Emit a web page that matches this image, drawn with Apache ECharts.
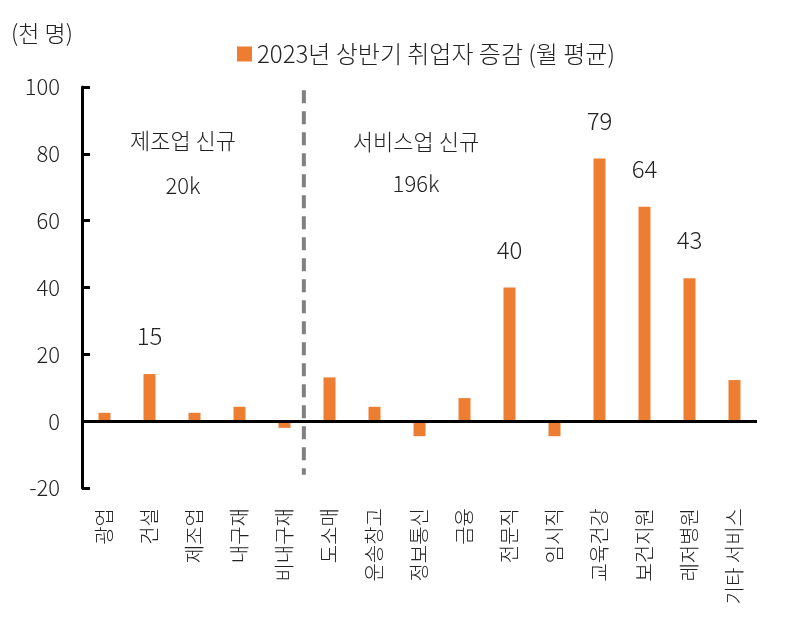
<!DOCTYPE html>
<html><head><meta charset="utf-8">
<script src="https://cdn.jsdelivr.net/npm/echarts@6/dist/echarts.min.js"></script>
<style>html,body{margin:0;padding:0;background:#fff}#c{width:786px;height:620px}</style>
</head><body><div id="c"></div>
<script>
const categories = ['광업','건설','제조업','내구재','비내구재','도소매','운송창고','정보통신','금융','전문직','임시직','교육건강','보건지원','레저병원','기타 서비스'];
const values = [2.5, 14.1, 2.5, 4.3, -2.0, 13.1, 4.3, -4.5, 6.9, 40.0, -4.5, 78.6, 64.2, 42.8, 12.3];
const barLabels = ['', '15', '', '', '', '', '', '', '', '40', '', '79', '64', '43', ''];
const seriesName = '2023년 상반기 취업자 증감 (월 평균)';
const unitLabel = '(천 명)';
const dividerPos = [[4.43, 99], [4.43, -16]];
const yTicks = [-20, 0, 20, 40, 60, 80, 100];

const FONT = '"Noto Sans CJK KR", "Noto Sans", sans-serif';
const TXT = '#222';
const chart = echarts.init(document.getElementById('c'), null, {renderer: 'canvas'});
chart.setOption({
  animation: false,
  textStyle: {fontFamily: FONT},
  grid: {left: 82, right: 29, top: 87, bottom: 132, containLabel: false},
  legend: {
    data: [seriesName], top: 37, left: 232, itemWidth: 15, itemHeight: 15, itemGap: 6,
    icon: 'rect',
    textStyle: {fontSize: 24, color: TXT, fontFamily: FONT, fontWeight: 300}
  },
  graphic: [
    {type: 'text', left: 11, top: 22, style: {text: unitLabel, fill: TXT, font: '300 23px ' + FONT}},
    {type: 'text', x: 183, y: 141, style: {text: '제조업 신규', fill: TXT, font: '300 22px ' + FONT, textAlign: 'center', textVerticalAlign: 'middle'}},
    {type: 'text', x: 183, y: 186, style: {text: '20k', fill: TXT, font: '300 22px ' + FONT, textAlign: 'center', textVerticalAlign: 'middle'}},
    {type: 'text', x: 416, y: 142, style: {text: '서비스업 신규', fill: TXT, font: '300 22px ' + FONT, textAlign: 'center', textVerticalAlign: 'middle'}},
    {type: 'text', x: 416, y: 184, style: {text: '196k', fill: TXT, font: '300 22px ' + FONT, textAlign: 'center', textVerticalAlign: 'middle'}}
  ],
  xAxis: [{
    type: 'category', data: categories, position: 'bottom',
    axisLine: {show: false, onZero: false}, axisTick: {show: false},
    axisLabel: {rotate: 90, margin: 20, fontSize: 20, color: TXT, fontFamily: FONT, fontWeight: 300, interval: 0}
  }, {
    type: 'value', min: -0.5, max: 14.5, show: false
  }],
  yAxis: {
    type: 'value', min: -20, max: 100, interval: 20,
    axisLine: {show: true, onZero: false, lineStyle: {color: '#000', width: 3}},
    axisTick: {show: true, inside: true, length: 8, lineStyle: {color: '#000', width: 3}},
    splitLine: {show: false},
    axisLabel: {margin: 22, fontSize: 22, color: TXT, fontFamily: FONT, fontWeight: 300}
  },
  series: [{
    name: seriesName, type: 'bar', data: values, barWidth: 12,
    itemStyle: {color: '#ED7D31'},
    label: {show: true, position: 'top', distance: 26, fontSize: 24, color: TXT, fontFamily: FONT, fontWeight: 300,
      formatter: p => barLabels[p.dataIndex]},
    markLine: {silent: true, symbol: 'none', label: {show: false},
      lineStyle: {color: '#000', width: 3, type: 'solid'},
      data: [{yAxis: 0}]}
  }, {
    type: 'line', xAxisIndex: 1, data: dividerPos, symbol: 'none',
    lineStyle: {color: '#808080', width: 4, type: [13, 8]}, silent: true
  }]
});
</script></body></html>
